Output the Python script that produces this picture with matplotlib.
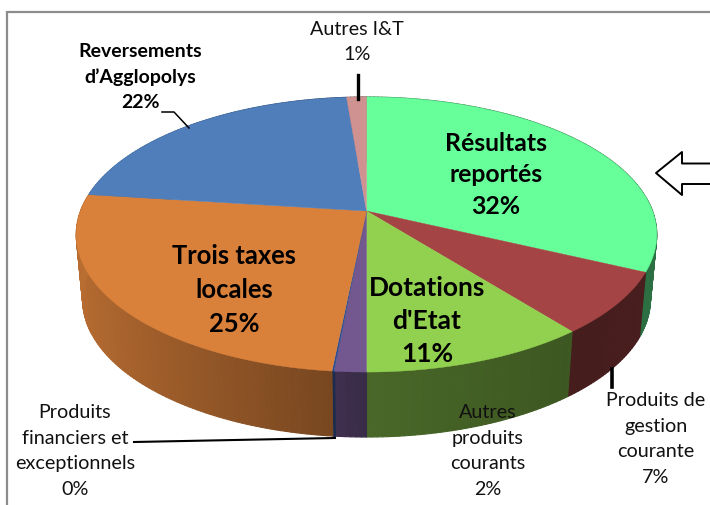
#!/usr/bin/env python3
# -*- coding: utf-8 -*-
import numpy as np
import matplotlib
matplotlib.use("Agg")
import matplotlib.pyplot as plt
from matplotlib.collections import PolyCollection

plt.rcParams['font.family'] = ['Lato', 'DejaVu Sans']

# slices, clockwise from the top
names = ["Résultats reportés", "Produits de gestion courante", "Dotations d'Etat",
         "Autres produits courants", "Produits financiers et exceptionnels",
         "Trois taxes locales", "Reversements d’Agglopolys", "Autres I&T"]
values = [32, 7.3, 10.7, 1.5, 0.1, 25.4, 21.7, 1.3]
colors = ["#66FF99", "#A54444", "#92D050", "#72588F", "#2F4F8F", "#D9803A", "#4F7EBB", "#CF9291"]

# the perspective of the disc, in pixels
cx, cy = 366.5, 211
rx, ry, persp = 286, 133.5, 0.171
depth = 65
bottom_shrink = 0.978


def project(theta, shrink=1.0, drop=0):
    u = np.sin(theta)
    v = np.cos(theta)
    w = 1 + persp * v
    return cx + shrink * rx * u / w, cy - ry * v / w + drop


def shade(theta):
    # the rim gets darker from left to right
    return np.interp(np.sin(theta), [-1, -0.1, 0.0, 0.6, 1], [0.85, 0.55, 0.5, 0.42, 0.44])


fig = plt.figure(figsize=(7.1, 5.05), dpi=100)
ax = fig.add_axes([0, 0, 1, 1])
ax.set_xlim(0, 710)
ax.set_ylim(505, 0)
ax.axis("off")

# frame, open on the right and at the bottom
ax.plot([7, 7, 710], [505, 12, 12], color="#8C8C8C", lw=1.6, solid_joinstyle="miter")

edges = np.cumsum([0] + values) / sum(values) * 2 * np.pi

# rim, thick edges so no seams show between the steps
for i in range(len(values)):
    t = np.linspace(edges[i], edges[i + 1], max(2, int(values[i] * 4) + 1))
    x1, y1 = project(t)
    x2, y2 = project(t, bottom_shrink, depth)
    quads = []
    cols = []
    base = np.array(matplotlib.colors.to_rgb(colors[i]))
    for k in range(len(t) - 1):
        quads.append([(x1[k], y1[k]), (x1[k + 1], y1[k + 1]), (x2[k + 1], y2[k + 1]), (x2[k], y2[k])])
        cols.append(base * shade((t[k] + t[k + 1]) / 2))
    ax.add_collection(PolyCollection(quads, facecolors=cols, edgecolors=cols, linewidths=0.8, zorder=2))

# top of the disc
for i in range(len(values)):
    t = np.linspace(edges[i], edges[i + 1], max(2, int(values[i] * 6) + 1))
    x, y = project(t)
    ax.fill(np.r_[cx, x], np.r_[cy, y], color=colors[i], lw=0.3, zorder=3)

# leader lines
ax.plot([162, 174, 189], [112, 112, 128], color="black", lw=1.1, zorder=4)
ax.plot([357.5, 357.5], [75, 99], color="black", lw=2.4, zorder=4)
ax.plot([134, 335], [442, 438], color="black", lw=1.5, zorder=4)
ax.plot([612, 612], [369, 387], color="black", lw=2.6, zorder=4)

# arrow on the right
ax.plot([710, 682, 682, 656, 682, 682, 710], [163.5, 163.5, 152, 173, 195, 184, 184],
        color="black", lw=1.4, zorder=4)

# labels
small = dict(ha="center", va="center", fontsize=14.2, linespacing=1.64, color="#111111", zorder=5)
big = dict(ha="center", va="center", fontweight="bold", color="black", zorder=5)
ax.text(357, 42, "Autres I&T\n1%", **small)
ax.text(75, 451, "Produits\nfinanciers et\nexceptionnels\n0%", **small)
ax.text(488, 451, "Autres\nproduits\ncourants\n2%", **small)
ax.text(656, 439, "Produits de\ngestion\ncourante\n7%", **small)
ax.text(140, 77, "Reversements\nd’Agglopolys\n22%", ha="center", va="center", fontsize=14,
        fontweight="bold", linespacing=1.55, color="black", zorder=5)
ax.text(496, 175, "Résultats\nreportés\n32%", fontsize=17.8, linespacing=1.45, **big)
ax.text(234, 290, "Trois taxes\nlocales\n25%", fontsize=18.4, linespacing=1.5, **big)
ax.text(427, 321, "Dotations\nd'Etat\n11%", fontsize=19, linespacing=1.46, **big)

fig.savefig("out.png", dpi=100)
